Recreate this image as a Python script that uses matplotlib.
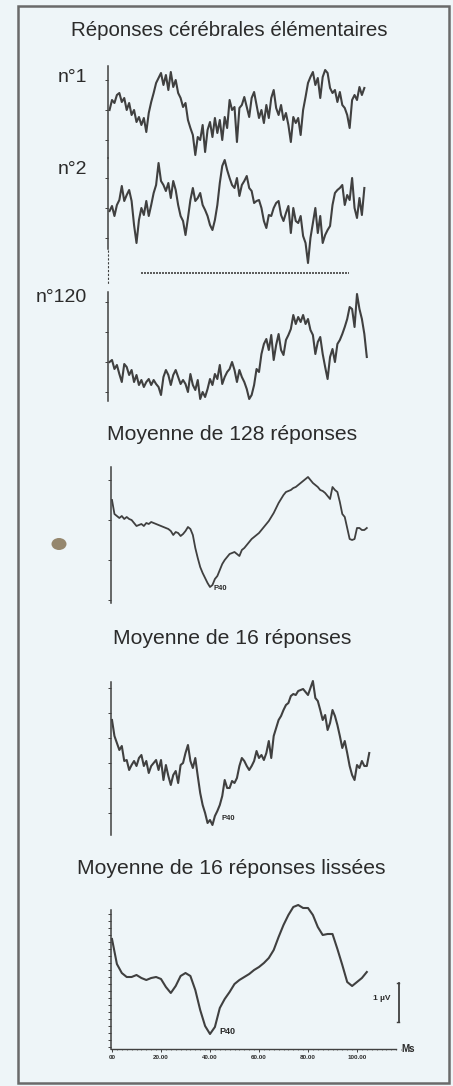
import matplotlib.pyplot as plt
from matplotlib.patches import Rectangle, Ellipse
from matplotlib.ticker import MultipleLocator

plt.rcParams['font.family'] = ['Liberation Sans', 'DejaVu Sans']

W, H = 453, 1086          # taille de la figure en pixels
PX_PER_MS = 2.45          # échelle horizontale
X0 = 112                  # pixel de t = 0 ms
UNITS_PER_UV = 39         # unités d'amplitude par microvolt

INK = '#404040'
TXT = '#2b2b2b'
BG = '#eef5f8'

# --- temps (ms) ---
t_single = list(range(-1, 104))
t_120 = list(range(-1, 105))
t_128 = list(range(0, 105))
t_16 = list(range(0, 106))
t_smooth = list(range(0, 105, 2))

# --- réponses élémentaires ---
resp_1 = [0, 10, 7, 15, 17, 8, 12, 0, 7, -5, 0,
          -12, -7, -15, -8, -22, -3, 8, 17, 27, 32,
          37, 25, 35, 20, 38, 23, 30, 17, 12, 3,
          7, -10, -18, -25, -45, -27, -30, -15, -42, -20,
          -12, -27, -8, -23, -10, -30, -7, -18, 10, 0,
          3, -32, 2, 5, 13, 3, -7, 12, 18, 5,
          -8, 0, -13, 5, -8, 12, 20, 2, -5, 5,
          -10, -3, -15, -32, -7, -13, -8, -25, 0, 13,
          27, 33, 38, 25, 32, 12, 33, 40, 37, 22,
          17, 20, 8, 18, 5, 2, -5, -18, 10, 15,
          10, 23, 15, 22]

resp_2 = [-3, 2, -8, 3, 8, 22, 7, 13, 18, 7, -17,
          -35, -12, 0, -7, 7, -8, 3, 15, 23, 45,
          27, 23, 17, 25, 10, 27, 18, 3, -8, -13,
          -27, -10, 8, 20, 7, 10, 15, 3, -2, -8,
          -17, -22, -12, 3, 25, 42, 48, 38, 30, 23,
          20, 30, 12, 23, 27, 32, 20, 17, 5, 7,
          8, 0, -13, -20, -7, -8, 0, 5, 7, -7,
          -13, -5, 2, -25, 0, -13, -15, -8, -28, -35,
          -55, -30, -15, 0, -25, -8, -35, -27, -22, -18,
          3, 15, 18, 20, 23, 3, 13, 8, 30, 0,
          -10, 10, -7, 20]

resp_120 = [0, 2, -7, -3, -12, -20, -2, -5, -13, -8, -20,
            -13, -23, -18, -25, -20, -17, -23, -18, -22, -25,
            -33, -15, -8, -13, -23, -13, -8, -15, -22, -18,
            -22, -30, -12, -23, -28, -18, -37, -30, -35, -27,
            -17, -23, -12, -17, -3, -22, -15, -10, -7, 0,
            -8, -20, -8, -15, -20, -27, -37, -33, -23, -7,
            -10, 8, 18, 23, 12, 27, 2, 17, 28, 12,
            7, 22, 27, 33, 47, 38, 45, 40, 47, 38,
            43, 32, 27, 8, 20, 25, 8, -5, -17, 5,
            13, 0, 18, 22, 28, 35, 43, 55, 53, 35,
            68, 53, 43, 28, 5]

# --- moyennes ---
avg_128 = [20, 6, 4, 2, 4, 1, 3, 1, 0, -3,
           -6, -5, -4, -6, -3, -4, -2, -3, -4, -5,
           -6, -7, -8, -9, -11, -15, -12, -13, -16, -14,
           -11, -7, -9, -15, -28, -38, -47, -53, -58, -63,
           -67, -65, -59, -56, -50, -44, -40, -37, -34, -33,
           -32, -34, -36, -30, -28, -25, -22, -19, -17, -15,
           -13, -10, -7, -4, -1, 3, 7, 12, 17, 21,
           25, 28, 29, 30, 32, 33, 35, 37, 39, 41,
           43, 40, 37, 35, 33, 30, 29, 27, 24, 21,
           33, 30, 28, 18, 6, 3, -8, -19, -20, -19,
           -8, -8, -10, -10, -8]

avg_16 = [43, 27, 20, 13, 17, 2, 3, -7, -2, 2,
          -3, 5, 8, -3, 2, -10, -3, 0, 3, -7,
          3, -17, -2, -13, -22, -12, -8, -20, -2, 0,
          10, 18, 2, -5, 5, -13, -30, -42, -50, -60,
          -57, -62, -53, -48, -42, -33, -17, -25, -25, -18,
          -20, -15, -3, 5, 2, -3, -7, -3, 2, 12,
          5, 8, 3, 10, 22, 5, 27, 35, 43, 47,
          53, 58, 60, 67, 69, 68, 72, 73, 74, 71,
          68, 75, 82, 65, 62, 53, 43, 48, 33, 40,
          53, 47, 38, 27, 15, 22, 10, -3, -12, -17,
          -2, -5, 2, -3, -3, 10]

avg_16_smooth = [38, 13, 4, 0, 0, 2, -1, -3, -1, 0,
                 -2, -10, -16, -9, 1, 4, 1, -13, -33, -49,
                 -57, -50, -31, -22, -15, -7, -3, 0, 3, 7,
                 10, 14, 19, 27, 40, 52, 62, 70, 72, 69,
                 69, 62, 50, 42, 43, 43, 28, 12, -5, -9,
                 -5, -1, 5]

x_ticks = [0, 20, 40, 60, 80, 100]
x_ticklabels = ['00', '20.00', '40.00', '60.00', '80.00', '100.00']
p40_ms = 40

fig = plt.figure(figsize=(W / 100, H / 100), dpi=100)
fig.patch.set_facecolor(BG)

# calque en pixels pour le cadre et les séparateurs
deco = fig.add_axes([0, 0, 1, 1])
deco.set_xlim(0, W)
deco.set_ylim(H, 0)
deco.axis('off')
deco.add_patch(Rectangle((17.5, 5.5), 431.5, 1077, fill=False, ec='#6a6a6a', lw=1.8))
deco.add_patch(Ellipse((59, 544), 15, 12, fc='#8c7b5f', ec='none', alpha=0.9))
deco.plot([141, 349], [273, 273], color=INK, lw=1.2, ls=(0, (1.2, 0.6)))
deco.plot([108, 108], [250, 284], color=INK, lw=0.8, ls=(0, (2, 1.5)))


def panel(left, top, right, bottom, base, step):
    """Axes placé en pixels; base = pixel de l'amplitude nulle."""
    ax = fig.add_axes([left / W, 1 - bottom / H, (right - left) / W, (bottom - top) / H])
    ax.set_xlim((left - X0) / PX_PER_MS, (right - X0) / PX_PER_MS)
    ax.set_ylim(base - bottom, base - top)
    ax.set_facecolor('none')
    for s in ['top', 'right', 'bottom']:
        ax.spines[s].set_visible(False)
    ax.spines['left'].set_color(INK)
    ax.spines['left'].set_linewidth(1.1)
    ax.set_xticks([])
    ax.yaxis.set_major_locator(MultipleLocator(step))
    ax.tick_params(axis='y', length=2, width=0.7, color=INK, labelleft=False)
    return ax


def trace(ax, t, y, lw=1.5):
    ax.plot(t, y, color=INK, lw=lw, solid_joinstyle='round', clip_on=False)


fig.text(229 / W, 1 - 31 / H, 'Réponses cérébrales élémentaires',
         ha='center', va='center', fontsize=14.8, color=TXT)

ax1 = panel(108, 66, 372, 158, 110, 30)
trace(ax1, t_single, resp_1)
fig.text(87 / W, 1 - 77 / H, 'n°1', ha='right', va='center', fontsize=14, color=TXT)

ax2 = panel(108, 158, 372, 249, 208, 30)
trace(ax2, t_single, resp_2)
fig.text(87 / W, 1 - 170 / H, 'n°2', ha='right', va='center', fontsize=14, color=TXT)

ax3 = panel(108, 292, 372, 401, 362, 30)
trace(ax3, t_120, resp_120)
fig.text(87 / W, 1 - 297 / H, 'n°120', ha='right', va='center', fontsize=14, color=TXT)

fig.text(232 / W, 1 - 434 / H, 'Moyenne de 128 réponses', ha='center', va='center',
         fontsize=15.2, color=TXT)
ax4 = panel(110.5, 467, 372, 603, 520, 40)
trace(ax4, t_128, avg_128, lw=1.3)
ax4.text(p40_ms + 1.5, avg_128[t_128.index(p40_ms)] - 1, 'P40', fontsize=5.5,
         fontweight='bold', color=TXT, va='center')

fig.text(232 / W, 1 - 639 / H, 'Moyenne de 16 réponses', ha='center', va='center',
         fontsize=15.2, color=TXT)
ax5 = panel(110.5, 682, 372, 835, 763, 25)
trace(ax5, t_16, avg_16)
ax5.text(p40_ms + 4.5, avg_16[t_16.index(p40_ms)] + 2, 'P40', fontsize=5.5,
         fontweight='bold', color=TXT, va='center')

fig.text(231 / W, 1 - 868 / H, 'Moyenne de 16 réponses lissées', ha='center', va='center',
         fontsize=15.2, color=TXT)
ax6 = panel(110.5, 910, 412, 1049, 977, 7)
trace(ax6, t_smooth, avg_16_smooth, lw=1.5)
i40 = t_smooth.index(p40_ms)
ax6.text(p40_ms + 4, avg_16_smooth[i40] + 2, 'P40', fontsize=6.5,
         fontweight='bold', color=TXT, va='center')

# axe du temps
ax6.spines['bottom'].set_visible(True)
ax6.spines['bottom'].set_color(INK)
ax6.spines['bottom'].set_linewidth(1.0)
ax6.spines['bottom'].set_linestyle((0, (3, 1)))
ax6.spines['bottom'].set_bounds((110.5 - X0) / PX_PER_MS, 116)
ax6.set_xticks(x_ticks)
ax6.set_xticklabels(x_ticklabels, fontsize=4.5, fontweight='bold', color=TXT)
ax6.xaxis.set_minor_locator(MultipleLocator(2))
ax6.tick_params(axis='x', which='major', length=2, width=0.7, color=INK, pad=2.5)
ax6.tick_params(axis='x', which='minor', length=1, width=0.5, color=INK)
ax6.text(118, ax6.get_ylim()[0], 'Ms', fontsize=7, fontweight='bold', color=TXT,
         va='center', ha='left')

# barre d'échelle 1 µV
bar_t, bar_low = 117, -45
ax6.plot([bar_t, bar_t], [bar_low, bar_low + UNITS_PER_UV], color=INK, lw=1.3, clip_on=False)
ax6.plot([bar_t - 0.8, bar_t], [bar_low, bar_low], color=INK, lw=1.0, clip_on=False)
ax6.plot([bar_t - 0.8, bar_t], [bar_low + UNITS_PER_UV] * 2, color=INK, lw=1.0, clip_on=False)
ax6.text(bar_t - 3.5, bar_low + UNITS_PER_UV * 0.6, '1 µV', fontsize=6, fontweight='bold',
         color=TXT, ha='right', va='center')

plt.savefig('out.png', dpi=100, facecolor=BG)
plt.close()
